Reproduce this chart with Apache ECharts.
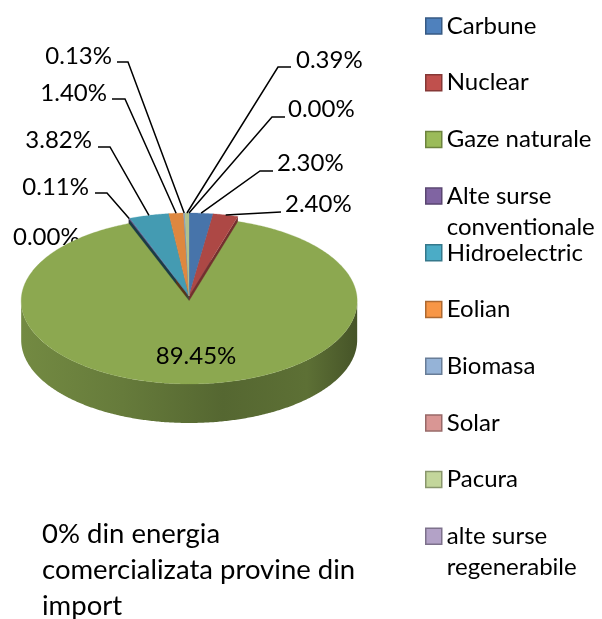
<!DOCTYPE html>
<html><head><meta charset="utf-8">
<script src="https://cdn.jsdelivr.net/npm/echarts@6/dist/echarts.min.js"></script>
<style>html,body{margin:0;padding:0;background:#fff}#chart{width:602px;height:619px}</style>
</head><body><div id="chart"></div>
<script>
const categories = ['Carbune','Nuclear','Gaze naturale','Alte surse conventionale','Hidroelectric','Eolian','Biomasa','Solar','Pacura','alte surse regenerabile'];
const legendLabels = ['Carbune','Nuclear','Gaze naturale','Alte surse\nconventionale','Hidroelectric','Eolian','Biomasa','Solar','Pacura','alte surse\nregenerabile'];
const shares = [2.30, 2.40, 89.45, 0.11, 3.82, 1.40, 0.13, 0.00, 0.39, 0.00];
const colors = ['#4F81BD','#C0504D','#9BBB59','#8064A2','#4BACC6','#F79646','#95B3D7','#D99694','#C3D69B','#B3A2C7'];
const noteText = '0% din energia\ncomercializata provine din\nimport';

const FONT = 'Lato';
const FS = 24;
const CX = 189, CY = 296, RX = 168, RY = 83, DEPTH = 39, EXPLODE = 5;
const explodedIdx = 2;

// label placements (layout only)
const labelLayout = [
  {x:277, y:163, align:'left',  line:[[260,171],[273,171]]},
  {x:285, y:204, align:'left',  line:[[281,212]]},
  {x:196, y:356, align:'center', line:null},
  {x:89,  y:187, align:'right', line:[[107,193],[95,193]]},
  {x:92,  y:140, align:'right', line:[[110,147],[98,147]]},
  {x:107, y:93,  align:'right', line:[[125,99],[112,99]]},
  {x:112, y:56,  align:'right', line:[[128,62],[117,62]]},
  {x:13,  y:237, align:'left',  line:null},
  {x:296, y:60,  align:'left',  line:[[278,67],[291,67]]},
  {x:288, y:109, align:'left',  line:[[272,117],[285,117]]}
];

const total = shares.reduce((a,b)=>a+b,0);
const angles = []; let acc = 0;
shares.forEach(v => { const s = acc/total*2*Math.PI; acc += v; angles.push([s, acc/total*2*Math.PI]); });

function rim(cx, cy, t){ return [cx + RX*Math.sin(t), cy - RY*Math.cos(t)]; }
function arcPts(cx, cy, a0, a1){
  const n = Math.max(2, Math.ceil((a1-a0)/0.01)); const pts = [];
  for (let i=0;i<=n;i++) pts.push(rim(cx, cy, a0 + (a1-a0)*i/n));
  return pts;
}
function shade(hex, f){
  const n = parseInt(hex.slice(1),16);
  const r = Math.round(((n>>16)&255)*f), g = Math.round(((n>>8)&255)*f), b = Math.round((n&255)*f);
  return 'rgb('+Math.min(255,r)+','+Math.min(255,g)+','+Math.min(255,b)+')';
}

function makeRender(i){
  return function(params, api){
    const val = api.value(0);
    const [a0, a1] = angles[i];
    const mid = (a0+a1)/2;
    const off = i === explodedIdx ? EXPLODE : 0;
    const cx = CX + off*Math.sin(mid), cy = CY - off*Math.cos(mid);
    const children = [];
    const col = colors[i];
    if (a1 > a0) {
      if (Math.sin(a0) < -1e-6) {
        const p = rim(cx, cy, a0);
        children.push({type:'polygon', z2:0, shape:{points:[[cx,cy],p,[p[0],p[1]+DEPTH],[cx,cy+DEPTH]]},
          style:{fill: shade(col,0.35)}});
      }
      if (Math.sin(a1) > 1e-6) {
        const p = rim(cx, cy, a1);
        children.push({type:'polygon', z2:0, shape:{points:[[cx,cy],p,[p[0],p[1]+DEPTH],[cx,cy+DEPTH]]},
          style:{fill: shade(col,0.6)}});
      }
      const s = Math.max(a0, Math.PI/2), e = Math.min(a1, 3*Math.PI/2);
      if (e > s) {
        const top = arcPts(cx, cy, s, e);
        const bot = top.map(p => [p[0], p[1]+DEPTH]).reverse();
        children.push({type:'polygon', z2:1, shape:{points: top.concat(bot)},
          style:{fill: new echarts.graphic.LinearGradient(0,0,1,0,[
            {offset:0, color: shade(col,0.74)},
            {offset:0.3, color: shade(col,0.66)},
            {offset:0.6, color: shade(col,0.55)},
            {offset:0.85, color: shade(col,0.6)},
            {offset:1, color: shade(col,0.45)}])}});
      }
      const pts = [[cx,cy]].concat(arcPts(cx, cy, a0, a1));
      children.push({type:'polygon', z2:5, shape:{points:pts},
        style:{fill: shade(col, 0.9), stroke: shade(col,0.9), lineWidth:0.3}});
    }
    const L = labelLayout[i];
    const txt = val.toFixed(2) + '%';
    children.push({type:'text', z2:20, style:{text:txt, x:L.x, y:L.y, align:L.align, verticalAlign:'middle',
      font: FS+'px '+FONT, fill:'#000'}});
    if (L.line) {
      const m = rim(CX, CY, mid);
      children.push({type:'polyline', z2:20, shape:{points:[m].concat(L.line)},
        style:{stroke:'#000', lineWidth:1.5, fill:null}});
    }
    return {type:'group', children};
  };
}

const ICON_X = 425, C0 = 26, STEP = 56.7, LH = 31;
const series = categories.map((name, i) => ({
  type:'custom', name, coordinateSystem:'none', z: i === explodedIdx ? 3 : 2,
  itemStyle:{color: colors[i]},
  data:[[shares[i]]], renderItem: makeRender(i), silent:true
}));
const legends = categories.map((name, i) => {
  const two = legendLabels[i].indexOf('\n') >= 0;
  const c = C0 + i*STEP;
  return {
    orient:'vertical', left: ICON_X, top: two ? c - 1.5*LH : c - LH/2, padding:0,
    icon:'rect', itemWidth:16, itemHeight:16, selectedMode:false,
    data:[{name, itemStyle:{color: colors[i], borderColor: shade(colors[i],0.7), borderWidth:1.5}}],
    formatter: () => two ? '\n' + legendLabels[i] : legendLabels[i],
    textStyle:{fontFamily:FONT, fontSize:FS, color:'#000', lineHeight:LH}
  };
});

const chart = echarts.init(document.getElementById('chart'), null, {renderer:'canvas'});
chart.setOption({
  animation:false,
  backgroundColor:'#fff',
  title:{text: noteText, left:42, top:516, padding:0,
    textStyle:{fontFamily:FONT, fontSize:27.5, fontWeight:'normal', color:'#000', lineHeight:36}},
  legend: legends,
  series
});
</script></body></html>
